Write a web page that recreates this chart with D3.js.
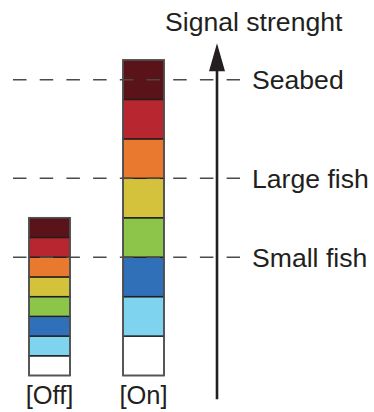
<!DOCTYPE html>
<html><head><meta charset="utf-8">
<script src="https://cdn.jsdelivr.net/npm/d3@7"></script>
<style>html,body{margin:0;padding:0;background:#fff;}svg{display:block;}</style>
</head><body>
<script>
// Data
const categories = ["[Off]", "[On]"];
const segmentUnits = [1, 2];              // height of each colour step per bar
const segmentColors = ["#ffffff", "#7ed3ee", "#2f70b8", "#8dc44a", "#d4c23c", "#e8792e", "#b8272f", "#5a1318"];
const levelNames = ["Seabed", "Large fish", "Small fish"];
const levelValues = [15, 10, 6];
const axisTitle = "Signal strenght";

const W = 374, H = 412;
const svg = d3.select("body").append("svg").attr("width", W).attr("height", H);

const y = d3.scaleLinear().domain([0, 16]).range([375.5, 60]);
const x = d3.scalePoint().domain(categories).range([49.5, 143.5]);
const barW = 41;
const ink = "#231f20";

// bars
categories.forEach((c, i) => {
  const segs = segmentColors.map((col, k) => ({col, y0: k * segmentUnits[i], y1: (k + 1) * segmentUnits[i]}));
  const g = svg.append("g");
  g.selectAll("rect").data(segs).join("rect")
    .attr("x", x(c) - barW / 2)
    .attr("width", barW)
    .attr("y", d => y(d.y1))
    .attr("height", d => y(d.y0) - y(d.y1))
    .attr("fill", d => d.col)
    .attr("stroke", ink)
    .attr("stroke-width", 1.4);
  g.append("rect")
    .attr("x", x(c) - barW / 2).attr("width", barW)
    .attr("y", y(segs.length * segmentUnits[i])).attr("height", y(0) - y(segs.length * segmentUnits[i]))
    .attr("fill", "none").attr("stroke", "#555").attr("stroke-width", 1.6);
  svg.append("text")
    .attr("x", x(c)).attr("y", 404)
    .attr("text-anchor", "middle")
    .attr("font-family", "Liberation Sans, Arial, sans-serif")
    .attr("font-size", 25.5).attr("fill", ink)
    .text(c);
});

// dashed level lines
const axisX = 217;
levelValues.forEach((v, i) => {
  svg.append("line")
    .attr("x1", 13).attr("x2", 240)
    .attr("y1", y(v)).attr("y2", y(v))
    .attr("stroke", "#4a4a4a").attr("stroke-width", 1.6)
    .attr("stroke-dasharray", "13.5,13.2");
  svg.append("text")
    .attr("x", 252).attr("y", y(v) + 9.5)
    .attr("font-family", "Liberation Sans, Arial, sans-serif")
    .attr("font-size", 26.6).attr("fill", ink)
    .text(levelNames[i]);
});

// arrow axis
const yBottom = y(-1.2), yTip = y(16.85), headLen = 28, headW = 16;
svg.append("line")
  .attr("x1", axisX).attr("x2", axisX)
  .attr("y1", yBottom).attr("y2", yTip + headLen - 2)
  .attr("stroke", ink).attr("stroke-width", 2.6);
svg.append("path")
  .attr("d", `M${axisX},${yTip} L${axisX + headW / 2},${yTip + headLen} L${axisX - headW / 2},${yTip + headLen} Z`)
  .attr("fill", ink);
svg.append("text")
  .attr("x", 165).attr("y", 31)
  .attr("font-family", "Liberation Sans, Arial, sans-serif")
  .attr("font-size", 26.6).attr("fill", ink)
  .text(axisTitle);
</script>
</body></html>
